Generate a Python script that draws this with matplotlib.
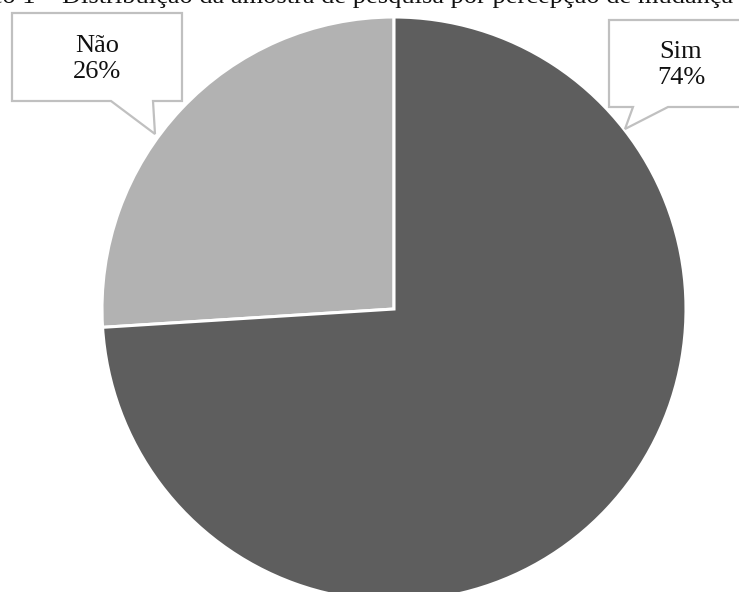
import matplotlib
matplotlib.use("Agg")
import matplotlib.pyplot as plt
from matplotlib.patches import Polygon

# Data
categories = ["Não", "Sim"]
shares = [26, 74]
colors = ["#b2b2b2", "#5e5e5e"]
title_prefix = "Gráfico 1 – "
title_body = "Distribuição da amostra de pesquisa por percepção de mudança"

plt.rcParams["font.family"] = ["Liberation Serif", "DejaVu Serif"]

W, H = 739, 592
fig = plt.figure(figsize=(W / 100, H / 100), dpi=100)
ax = fig.add_axes([0, 0, 1, 1])

# Pie, in pixel-like coordinates (y measured from the bottom)
cx, cy, r = 394, H - 309, 292
ax.pie(shares, colors=colors, startangle=90, counterclock=True,
       center=(cx, cy), radius=r,
       wedgeprops=dict(edgecolor="white", linewidth=2.2))
ax.set_xlim(0, W)
ax.set_ylim(0, H)
ax.set_aspect("equal")
ax.axis("off")


def callout(x0, x1, y0, y1, p_left, p_right, tip):
    """Rectangular speech bubble with a pointer on its bottom edge (top-down px)."""
    pts = [(x0, y0), (x1, y0), (x1, y1), (p_right, y1), tip, (p_left, y1), (x0, y1)]
    pts = [(x, H - y) for x, y in pts]
    ax.add_patch(Polygon(pts, closed=True, facecolor="white",
                         edgecolor="#c0c0c0", linewidth=1.6, zorder=5,
                         clip_on=False))


callout(12, 182, 13, 101, 111, 153, (155, 134))
callout(609, 760, 20, 107, 633, 668, (625, 129))

label_kw = dict(ha="center", va="center", fontsize=19, family="Liberation Serif",
                color="#111111", linespacing=1.25, zorder=6)
ax.text(97, H - 59, f"{categories[0]}\n{shares[0]}%", **label_kw)
ax.text(681, H - 65, f"{categories[1]}\n{shares[1]}%", **label_kw)

# Title sits mostly above the top edge of the canvas
title_kw = dict(va="baseline", fontsize=19, family="Liberation Serif",
                color="#111111", clip_on=False)
ax.text(62, H - 3, title_prefix, ha="right", **title_kw)
ax.text(62, H - 3, title_body, ha="left", **title_kw)

fig.savefig("out.png", dpi=100)
